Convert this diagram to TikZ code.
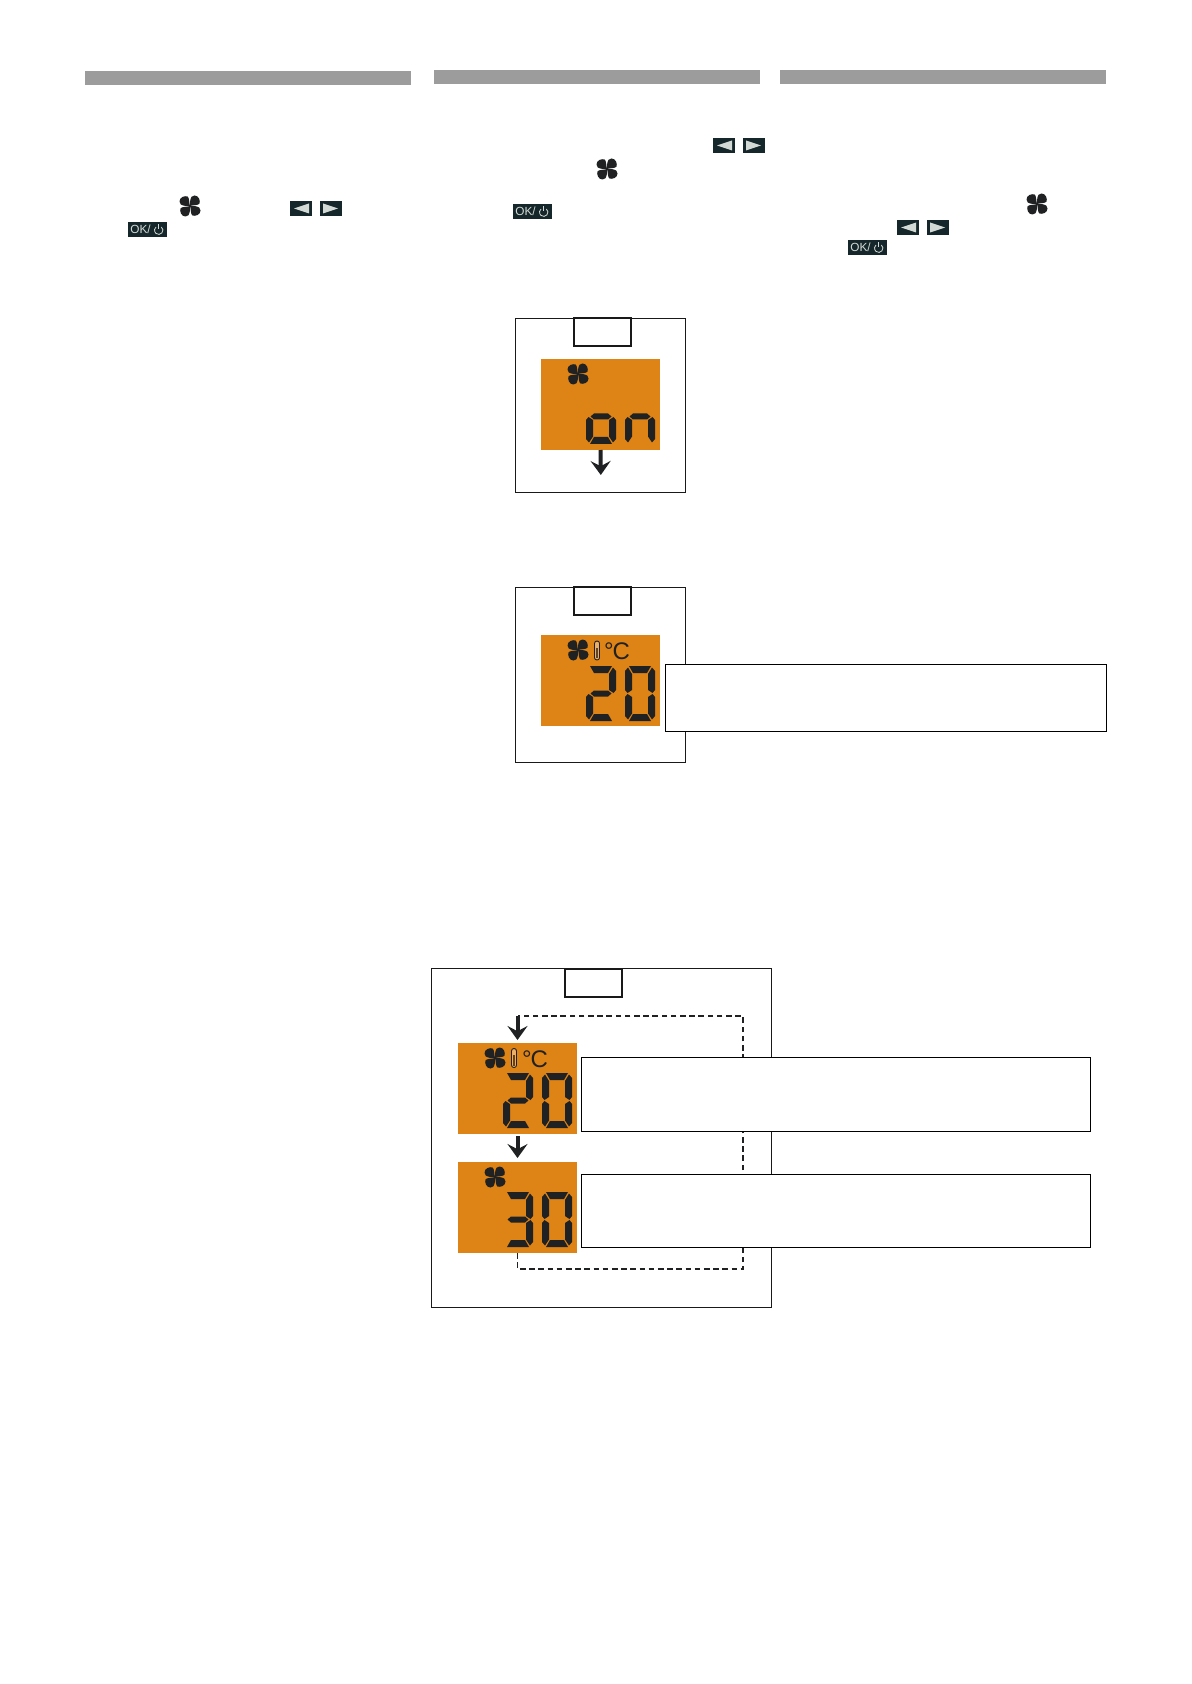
\documentclass[tikz,border=0pt]{standalone}
\usepackage{fontspec}
\setmainfont{Liberation Sans}
\usetikzlibrary{arrows.meta,positioning}
\definecolor{bargray}{HTML}{9B9C9B}
\definecolor{lcdorange}{HTML}{DE8316}
\definecolor{icondark}{HTML}{1F2122}
\definecolor{keydark}{HTML}{15272A}
\definecolor{keylight}{HTML}{D3DAD6}
% seven segment outlines, digit box 30 x 55
\newcommand{\sega}{(4,0)--(26,0)--(22,7)--(8,7)--cycle}
\newcommand{\segb}{(27,1.5)--(30,5)--(30,24)--(27.5,27)--(23,24)--(23,8)--cycle}
\newcommand{\segc}{(27.5,28)--(30,31)--(30,50)--(27,53.5)--(23,47.5)--(23,31)--cycle}
\newcommand{\segd}{(8,48)--(22,48)--(26,55)--(4,55)--cycle}
\newcommand{\sege}{(2.5,28)--(7,31)--(7,47.5)--(3,53.5)--(0,50)--(0,31)--cycle}
\newcommand{\segf}{(3,1.5)--(7,8)--(7,24)--(2.5,27)--(0,24)--(0,5)--cycle}
\newcommand{\segg}{(8,24.5)--(22,24.5)--(25.5,27.5)--(22,30.5)--(8,30.5)--(4.5,27.5)--cycle}
\begin{document}
\begin{tikzpicture}[
  x=0.5pt,y=-0.5pt,
  header/.style={
    fill=bargray,
    anchor=north west,
    minimum width=163pt,
    minimum height=7pt,
    inner sep=0pt,
    outer sep=0pt
  },
  panel/.style={
    draw=black!90,
    line width=0.42pt,
    fill=white,
    anchor=north west,
    inner sep=0pt,
    outer sep=0pt
  },
  tabbox/.style={
    panel,
    line width=0.6pt,
    minimum width=28.5pt,
    minimum height=14pt
  },
  screen/.style={
    fill=lcdorange,
    anchor=north west,
    minimum width=59.5pt,
    minimum height=45.5pt,
    inner sep=0pt,
    outer sep=0pt
  },
  callout/.style={
    panel,
    draw=black,
    line width=0.5pt
  },
  unit/.style={
    font=\fontsize{12}{12}\selectfont,
    text=icondark,
    inner sep=0pt
  },
  flow/.style={
    -{Stealth[length=7pt,width=10pt,inset=2.6pt]},
    draw=icondark,
    fill=icondark,
    line width=2pt
  },
  loop line/.style={
    draw=icondark,
    line width=0.85pt,
    dash pattern=on 2.8pt off 1.8pt
  },
  key label/.style={
    text=keylight,
    font=\fontsize{5.9}{5.9}\selectfont,
    inner sep=0pt
  },
  fan/.pic={
    \foreach \ang in {0,90,180,270}
      \fill[icondark,rotate=\ang] (0,0) .. controls (-2.5,-0.3) and (-10.5,1) .. (-10.5,-4.5)
        .. controls (-10.5,-9) and (-5,-10.5) .. (-2.5,-9.5) .. controls (-0.5,-8.5) and (-1,-3) .. (0,0) -- cycle;
  },
  thermo/.pic={
    \draw[icondark,line width=0.45pt,fill=lcdorange!65!white,rounded corners=1.2pt] (-2.5,-9.5) rectangle (2.5,9.5);
    \fill[icondark!65!lcdorange] (-0.9,-3) rectangle (0.9,7.5);
  },
  key left/.pic={
    \fill[keydark] (0,0) rectangle (22,15);
    \fill[keylight] (4,7.5) -- (19,2.5) -- (19,12.5) -- cycle;
  },
  key right/.pic={
    \fill[keydark] (0,0) rectangle (22,15);
    \fill[keylight] (18,7.5) -- (3,2.5) -- (3,12.5) -- cycle;
  },
  key ok/.pic={
    \fill[keydark] (0,0) rectangle (38.5,15);
    \node[key label,anchor=west] (-label) at (2,7.7) {OK/};
    \draw[keylight,line width=0.4pt] (33.4,5) arc[start angle=-50,end angle=230,radius=4.2];
    \draw[keylight,line width=0.4pt] (30.7,2.5) -- (30.7,7.5);
  },
  digit o/.pic={\fill[icondark] \segg \segc \segd \sege;},
  digit n/.pic={\fill[icondark] \segg \segc \sege;},
  digit 2/.pic={\fill[icondark] \sega \segb \segg \sege \segd;},
  digit 3/.pic={\fill[icondark] \sega \segb \segg \segc \segd;},
  digit 0/.pic={\fill[icondark] \sega \segb \segc \segd \sege \segf;}
]
  \useasboundingbox (0,0) rectangle (1191,1684);

  \node[header] (bar-left) at (85,71) {};
  \node[header] (bar-mid) at (434,70) {};
  \node[header] (bar-right) at (780,70) {};

  \pic (fan-a) at (190,206) {fan};
  \pic (left-a) at (290,201) {key left};
  \pic (right-a) at (320,201) {key right};
  \pic (ok-a) at (128,222) {key ok};

  \pic (left-b) at (713,138) {key left};
  \pic (right-b) at (743,138) {key right};
  \pic (fan-b) at (607,169) {fan};
  \pic (ok-b) at (513,204) {key ok};

  \pic (fan-c) at (1037,204) {fan};
  \pic (left-c) at (897,220) {key left};
  \pic (right-c) at (927,220) {key right};
  \pic (ok-c) at (848,240) {key ok};

  % first panel
  \node[panel,minimum width=85pt,minimum height=87pt] (panel-on) at (515,318) {};
  \node[tabbox] (tab-on) at (574,318) {};
  \node[screen] (screen-on) at (541,359) {};
  \pic (fan-on) at (578,374) {fan};
  \pic at (586,389) {digit o};
  \pic at (625,389) {digit n};
  \coordinate (on-end) at (600.8,475);
  \draw[flow] (screen-on.south) -- (on-end);

  % second panel
  \node[panel,minimum width=85pt,minimum height=87.5pt] (panel-temp) at (515,587) {};
  \node[tabbox] (tab-temp) at (574,587) {};
  \node[screen] (screen-temp) at (541,635) {};
  \pic (fan-temp) at (578,650) {fan};
  \pic (thermo-temp) at (597,650.5) {thermo};
  \node[unit] (unit-temp) at (617,651) {°\kern-0.6pt C};
  \pic at (586,666) {digit 2};
  \pic at (625,666) {digit 0};
  \node[callout,minimum width=220.5pt,minimum height=33.5pt] (note-temp) at (665,664) {};

  % third panel
  \node[panel,minimum width=170pt,minimum height=169.5pt] (panel-cycle) at (431,968) {};
  \node[tabbox] (tab-cycle) at (565,969) {};
  \node[screen] (screen-20) at (458,1043) {};
  \node[screen] (screen-30) at (458,1162) {};
  \pic (fan-20) at (495,1058) {fan};
  \pic (thermo-20) at (514,1058) {thermo};
  \node[unit] (unit-20) at (535,1059) {°\kern-0.6pt C};
  \pic at (503,1073) {digit 2};
  \pic at (542,1073) {digit 0};
  \pic (fan-30) at (495,1177) {fan};
  \pic at (503,1192) {digit 3};
  \pic at (542,1192) {digit 0};

  \coordinate (loop-in) at (517.5,1016);
  \coordinate (loop-top) at (743,1016);
  \coordinate (loop-bottom) at (743,1269);
  \draw[loop line] (screen-30.south) |- (loop-bottom) -- (loop-top) -- (loop-in);
  \draw[flow,shorten >=1.5pt] (loop-in) -- (screen-20.north);
  \draw[flow,shorten >=2pt,shorten <=1pt] (screen-20.south) -- (screen-30.north);

  \node[callout,minimum width=254.5pt,minimum height=37pt] (note-20) at (581,1057) {};
  \node[callout,minimum width=254.5pt,minimum height=36.5pt] (note-30) at (581,1174) {};
\end{tikzpicture}
\end{document}
